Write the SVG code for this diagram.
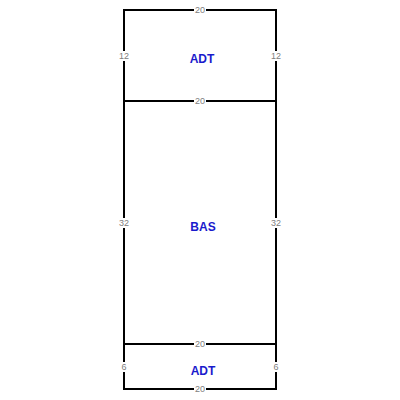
<svg xmlns="http://www.w3.org/2000/svg" width="400" height="400" viewBox="0 0 400 400">
<style>
.wall{stroke:#000;stroke-width:2;fill:none;stroke-linecap:square}
.dim{font-family:"Liberation Sans",Arial,sans-serif;font-size:9px;fill:#808080;text-anchor:middle;dominant-baseline:central}
.bg{fill:#fff}
.lbl{font-family:"Liberation Sans",Arial,sans-serif;font-size:12px;font-weight:bold;fill:#1a1acc;text-anchor:middle;dominant-baseline:central}
</style>
<rect width="400" height="400" fill="#fff"/>
<g id="connectors">
<line class="wall" x1="124" y1="10" x2="276" y2="10"/>
<line class="wall" x1="124" y1="101" x2="276" y2="101"/>
<line class="wall" x1="124" y1="344" x2="276" y2="344"/>
<line class="wall" x1="124" y1="389" x2="276" y2="389"/>
<line class="wall" x1="124" y1="10" x2="124" y2="389"/>
<line class="wall" x1="276" y1="10" x2="276" y2="389"/>
</g>
<g id="adt-top">
<text class="lbl" x="202" y="58.5">ADT</text>
<rect class="bg" x="194" y="5" width="12" height="10"/><text class="dim" x="200" y="10">20</text>
<rect class="bg" x="118" y="51" width="12" height="10"/><text class="dim" x="124" y="56">12</text>
<rect class="bg" x="270" y="51" width="12" height="10"/><text class="dim" x="276" y="56">12</text>
</g>
<g id="bas">
<text class="lbl" x="203" y="226.5">BAS</text>
<rect class="bg" x="194" y="96" width="12" height="10"/><text class="dim" x="200" y="101">20</text>
<rect class="bg" x="118" y="218" width="12" height="10"/><text class="dim" x="124" y="223">32</text>
<rect class="bg" x="270" y="218" width="12" height="10"/><text class="dim" x="276" y="223">32</text>
</g>
<g id="adt-bottom">
<text class="lbl" x="203" y="370.5">ADT</text>
<rect class="bg" x="194" y="339" width="12" height="10"/><text class="dim" x="200" y="344">20</text>
<rect class="bg" x="120" y="362" width="8" height="10"/><text class="dim" x="124" y="367">6</text>
<rect class="bg" x="272" y="362" width="8" height="10"/><text class="dim" x="276" y="367">6</text>
<rect class="bg" x="194" y="384" width="12" height="10"/><text class="dim" x="200" y="389">20</text>
</g>
</svg>
